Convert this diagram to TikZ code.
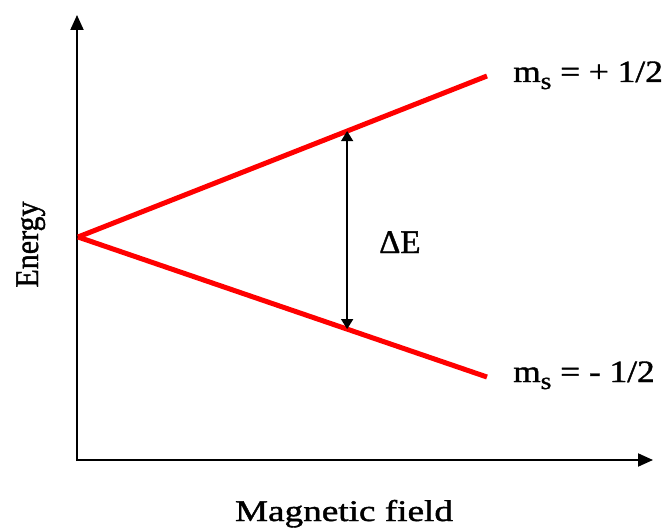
\documentclass[tikz,border=0pt]{standalone}
\usepackage{fontspec}
\setmainfont{Liberation Serif}
\newfontfamily\heavyfont[FakeBold=1.2]{Liberation Serif}
\usetikzlibrary{arrows.meta, calc}

\newcommand{\msub}{m\raisebox{-7pt}{\fontsize{24}{24}\selectfont s}}

\begin{document}
\begin{tikzpicture}[x=1pt, y=-1pt,
  axis/.style={line width=2pt, black, -{Triangle[length=15pt,width=13pt]}},
  level/.style={red, line width=5pt},
  gap/.style={line width=1.3pt, {Triangle[length=10pt,width=12pt]}-{Triangle[length=10pt,width=12pt]}},
  lbl/.style={inner sep=0pt}
]
  \useasboundingbox (0,0) rectangle (672,532);

  %% Axes
  \coordinate (orig) at (77,461);
  \coordinate (ytop) at (77,15);
  \coordinate (xend) at (653,460);
  \draw[axis] (orig) -- (ytop);
  \draw[axis] (76,460) -- (xend);

  %% Zeeman levels
  \coordinate (split) at (78,237);
  \coordinate (up) at (487,76);
  \coordinate (lo) at (487,377);
  \draw[level] (split) -- (up);
  \draw[level] (split) -- (lo);

  %% Energy gap
  \coordinate (gu) at ($(split)!0.658!(up)$);
  \coordinate (gl) at ($(split)!0.658!(lo)$);
  \draw[gap] (gu) -- (gl);
  \node[lbl, font=\heavyfont\fontsize{33}{35}\selectfont, anchor=base west] (de) at (379,253) {ΔE};

  %% Level labels
  \node[lbl, font=\heavyfont\fontsize{31}{33}\selectfont, xscale=1.14, anchor=base west] (mup) at (513,82) {\msub{} = + 1/2};
  \node[lbl, font=\heavyfont\fontsize{31}{33}\selectfont, xscale=1.14, anchor=base west] (mlo) at (513,382) {\msub{} = - 1/2};

  %% Axis titles
  \node[lbl, font=\heavyfont\fontsize{30}{32}\selectfont, xscale=1.24, anchor=base] (xt) at (344,521) {Magnetic field};
  \node[lbl, font=\heavyfont\fontsize{30}{32}\selectfont, rotate=90, yscale=1.1, anchor=base] (yt) at (38,244.5) {Energy};
\end{tikzpicture}
\end{document}
